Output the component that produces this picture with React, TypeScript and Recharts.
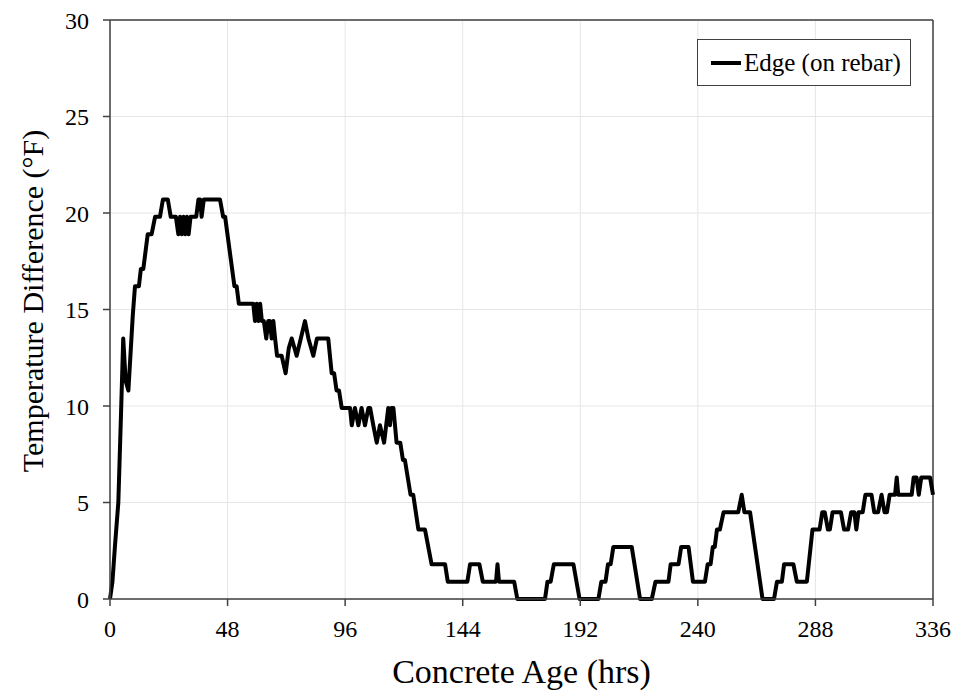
import { LineChart, Line, XAxis, YAxis, CartesianGrid, Legend, Label, ReferenceLine } from "recharts";

// Concrete age (hrs) and temperature difference (°F)
const hours = [
  0, 1.0, 2.0, 3.4, 4.5, 5.4, 6.4, 7.5, 9.3, 10.2, 11.8, 12.6, 13.6, 15.4, 17.0, 18.4, 20.4, 21.6, 23.6, 24.8,
  26.9, 27.9, 28.6, 29.3, 30.0, 30.7, 31.4, 32.1, 32.9, 35.2, 36.1, 36.8, 37.4, 38.3, 44.9, 46.2, 47.0, 50.8, 51.7, 52.6,
  58.5, 59.2, 59.9, 60.6, 61.3, 62.0, 62.8, 63.8, 64.6, 65.3, 66.0, 66.7, 67.4, 68.2, 70.1, 71.7, 73.0, 74.2, 76.2, 77.9,
  79.6, 81.0, 83.0, 84.5, 89.1, 90.5, 91.5, 92.5, 93.5, 94.6, 98.0, 98.7, 100.0, 101.4, 102.7, 104.1, 105.5, 106.2, 107.5, 108.9,
  110.2, 111.9, 113.6, 114.3, 114.9, 115.7, 117.0, 118.5, 119.6, 120.4, 122.7, 123.8, 125.9, 128.6, 131.3, 136.8, 137.9, 145.9, 147.0, 150.8,
  152.2, 157.6, 158.2, 158.8, 165.0, 166.3, 177.6, 178.6, 179.9, 181.2, 189.2, 191.7, 199.4, 200.6, 202.3, 203.3, 204.4, 205.5, 213.0, 216.4,
  221.2, 222.7, 228.0, 228.9, 232.1, 233.2, 236.2, 238.0, 242.9, 244.0, 245.2, 246.1, 246.9, 247.8, 249.0, 250.5, 256.5, 257.9, 259.0, 261.3,
  266.4, 271.1, 272.3, 274.3, 275.2, 279.0, 280.4, 284.5, 286.8, 289.7, 290.8, 291.8, 293.1, 293.9, 295.0, 298.4, 299.7, 301.3, 302.6, 303.9,
  304.7, 305.6, 307.3, 308.4, 310.9, 312.0, 313.6, 315.0, 316.2, 317.2, 318.3, 320.5, 321.2, 321.8, 327.3, 328.1, 329.3, 330.2, 331.2, 334.8,
  336,
];
const edgeDiff = [
  0, 0.9, 2.7, 5.0, 9.6, 13.5, 11.3, 10.8, 14.7, 16.2, 16.2, 17.1, 17.1, 18.9, 18.9, 19.8, 19.8, 20.7, 20.7, 19.8,
  19.8, 18.9, 19.8, 18.9, 19.8, 18.9, 19.8, 18.9, 19.8, 19.8, 20.7, 20.7, 19.8, 20.7, 20.7, 19.8, 19.8, 16.2, 16.2, 15.3,
  15.3, 14.4, 15.3, 14.4, 15.3, 14.4, 14.4, 13.5, 14.4, 14.4, 13.5, 14.4, 13.5, 12.6, 12.6, 11.7, 13.0, 13.5, 12.6, 13.5,
  14.4, 13.5, 12.6, 13.5, 13.5, 11.7, 11.7, 10.8, 10.8, 9.9, 9.9, 9.0, 9.9, 9.0, 9.9, 9.0, 9.9, 9.9, 9.0, 8.1,
  9.0, 8.1, 9.9, 9.0, 9.9, 9.9, 8.1, 8.1, 7.2, 7.2, 5.4, 5.4, 3.6, 3.6, 1.8, 1.8, 0.9, 0.9, 1.8, 1.8,
  0.9, 0.9, 1.8, 0.9, 0.9, 0, 0, 0.9, 0.9, 1.8, 1.8, 0, 0, 0.9, 0.9, 1.8, 1.8, 2.7, 2.7, 0,
  0, 0.9, 0.9, 1.8, 1.8, 2.7, 2.7, 0.9, 0.9, 1.8, 1.8, 2.7, 2.7, 3.6, 3.6, 4.5, 4.5, 5.4, 4.5, 4.5,
  0, 0, 0.9, 0.9, 1.8, 1.8, 0.9, 0.9, 3.6, 3.6, 4.5, 4.5, 3.6, 3.6, 4.5, 4.5, 3.6, 3.6, 4.5, 4.5,
  3.6, 4.5, 4.5, 5.4, 5.4, 4.5, 4.5, 5.4, 4.5, 4.5, 5.4, 5.4, 6.3, 5.4, 5.4, 6.3, 6.3, 5.4, 6.3, 6.3,
  5.4,
];
const xTicks = [0, 48, 96, 144, 192, 240, 288, 336];
const yTicks = [0, 5, 10, 15, 20, 25, 30];
const seriesName = "Edge (on rebar)";

const data = hours.map((h, i) => ({ hour: h, edge: edgeDiff[i] }));

const FONT = '"Liberation Serif", "Times New Roman", serif';
const AXIS = "#404040";

const LegendBox = () => (
  <div
    style={{
      width: 214,
      height: 47,
      boxSizing: "border-box",
      border: `1.5px solid ${AXIS}`,
      background: "#fff",
      display: "flex",
      alignItems: "center",
      paddingLeft: 13,
      fontFamily: FONT,
      fontSize: 25,
      color: "#000",
    }}
  >
    <span style={{ display: "inline-block", width: 30, height: 4, background: "#000", marginRight: 3 }} />
    {seriesName}
  </div>
);

const YTitle = ({ viewBox }: any) => {
  const cx = 32;
  const cy = 301;
  return (
    <text
      x={cx}
      y={cy}
      transform={`rotate(-90, ${cx}, ${cy})`}
      textAnchor="middle"
      dominantBaseline="central"
      fontFamily={FONT}
      fontSize={30}
      fill="#000"
    >
      Temperature Difference  (°F)
    </text>
  );
};

export default function App() {
  return (
    <div style={{ position: "absolute", left: 0, top: 0, width: 958, height: 698, background: "#fff", fontFamily: FONT }}>
      <LineChart width={958} height={698} data={data} margin={{ top: 20, right: 25, left: 0, bottom: 0 }}>
        <CartesianGrid stroke="#e6e6e6" strokeWidth={1} />
        <XAxis
          dataKey="hour"
          type="number"
          domain={[0, 336]}
          ticks={xTicks}
          height={99}
          stroke={AXIS}
          strokeWidth={1.5}
          tickSize={7}
          tickMargin={14}
          tick={{ fill: "#000", fontSize: 24, fontFamily: FONT }}
        >
          <Label value="Concrete Age (hrs)" position="insideBottom" offset={15} fill="#000" fontSize={34} fontFamily={FONT} />
        </XAxis>
        <YAxis
          type="number"
          domain={[0, 30]}
          ticks={yTicks}
          width={110}
          stroke={AXIS}
          strokeWidth={1.5}
          tickSize={7}
          tickMargin={14}
          tick={{ fill: "#000", fontSize: 24, fontFamily: FONT }}
        >
          <Label content={<YTitle />} />
        </YAxis>
        <ReferenceLine y={30} stroke={AXIS} strokeWidth={1.5} />
        <ReferenceLine x={336} stroke={AXIS} strokeWidth={1.5} />
        <Legend
          layout="horizontal"
          verticalAlign="middle"
          align="center"
          content={<LegendBox />}
          wrapperStyle={{ left: 697, top: 39, width: 214, height: 47 }}
        />
        <Line
          type="linear"
          dataKey="edge"
          name={seriesName}
          stroke="#000"
          strokeWidth={4}
          strokeLinejoin="round"
          dot={false}
          isAnimationActive={false}
        />
      </LineChart>
    </div>
  );
}
